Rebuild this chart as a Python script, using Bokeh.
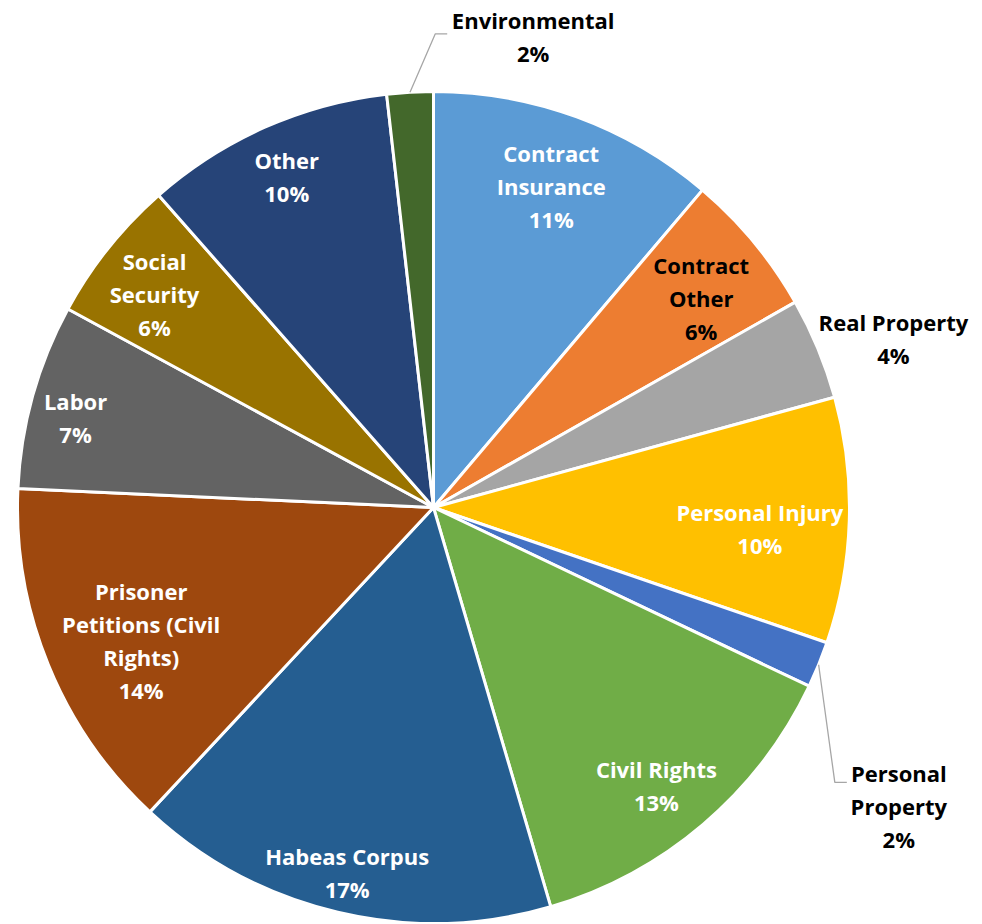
import math
from bokeh.plotting import figure
from bokeh.models import Range1d, ColumnDataSource
from bokeh.embed import file_html
from bokeh.resources import INLINE
from bokeh.core.properties import value

# ---- data ----
categories = ["Contract Insurance", "Contract Other", "Real Property", "Personal Injury",
              "Personal Property", "Civil Rights", "Habeas Corpus",
              "Prisoner Petitions (Civil Rights)", "Labor", "Social Security", "Other",
              "Environmental"]
label_names = ["Contract\nInsurance", "Contract\nOther", "Real Property", "Personal Injury",
               "Personal\nProperty", "Civil Rights", "Habeas Corpus",
               "Prisoner\nPetitions (Civil\nRights)", "Labor", "Social\nSecurity", "Other",
               "Environmental"]
shares = [11.2, 5.6, 3.95, 9.55, 1.8, 13.4, 16.5, 13.8, 7.2, 5.6, 9.7, 1.8]
colors = ["#5B9BD5", "#ED7D31", "#A5A5A5", "#FFC000", "#4472C4", "#70AD47",
          "#255E91", "#9E480E", "#636363", "#997300", "#264478", "#43682B"]

# ---- layout / style ----
R = 416
label_r = [342, 340, 490, 327, 553, 356, 375, 321, 369, 351, 362, 481]
label_dang = [0, 1.6, 2.3, 1.8, 10.5, 1.7, 0, -2.2, -1.5, -1.2, 0, 15.2]
label_color = ["white", "black", "black", "white", "black", "white", "white", "white",
               "white", "white", "white", "black"]
outside = {4: (-64, 24, -52, 24), 11: (-98, 3, -86, 3)}

total = sum(shares)
starts, ends, mids = [], [], []
c = 0.0
for s in shares:
    a0 = c / total * 2 * math.pi
    c += s
    a1 = c / total * 2 * math.pi
    starts.append(math.pi / 2 - a0)
    ends.append(math.pi / 2 - a1)
    mids.append((a0 + a1) / 2)

W, H = 980, 922
p = figure(width=W, height=H, output_backend="svg", toolbar_location=None,
           x_range=Range1d(-433, -433 + W), y_range=Range1d(507 - H, 507),
           min_border=0, x_axis_location=None, y_axis_location=None)
p.grid.visible = False
p.outline_line_color = None
p.background_fill_color = "white"

src = ColumnDataSource(dict(x=[0] * len(shares), y=[0] * len(shares),
                            start=starts, end=ends, color=colors, cat=categories))
p.wedge(x="x", y="y", radius=R, start_angle="start", end_angle="end",
        direction="clock", fill_color="color", line_color="white", line_width=3,
        source=src)

lx, ly, lt = [], [], []
for i, s in enumerate(shares):
    ang = mids[i] + math.radians(label_dang[i])
    x = label_r[i] * math.sin(ang)
    y = label_r[i] * math.cos(ang)
    lx.append(x)
    ly.append(y)
    lt.append(f"{label_names[i]}\n{int(s + 0.5)}%")
    if i in outside:
        ex, ey, hx, hy = outside[i]
        sx, sy = R * math.sin(mids[i]), R * math.cos(mids[i])
        p.line([sx, x + ex, x + hx], [sy, y + ey, y + hy], line_color="#A6A6A6",
               line_width=1.3)

lsrc = ColumnDataSource(dict(x=lx, y=ly, t=lt, c=label_color))
p.text(x="x", y="y", text="t", source=lsrc, text_color="c",
       text_font=value("Open Sans"), text_font_style="bold", text_font_size="22px",
       text_align="center", text_baseline="middle", text_line_height=1.1)

open("out.html", "w").write(file_html(p, INLINE))
